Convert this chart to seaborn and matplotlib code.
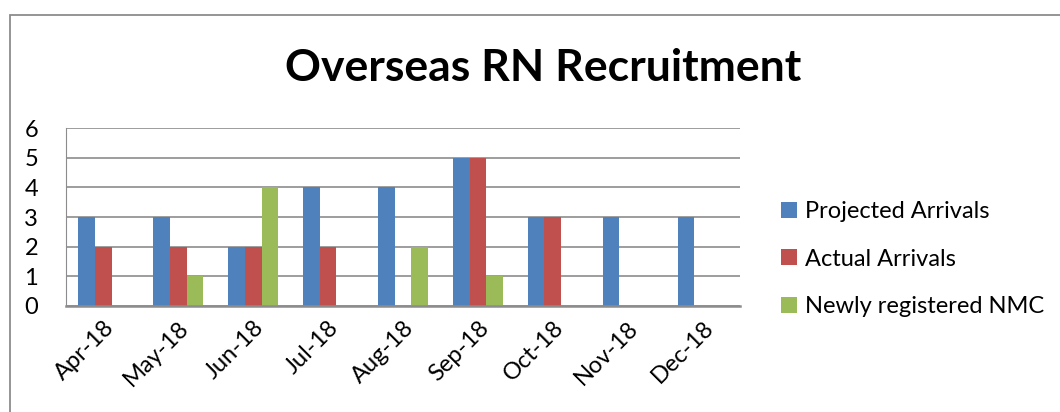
import matplotlib
matplotlib.use("Agg")
import matplotlib.pyplot as plt
import matplotlib.patches as mpatches
import pandas as pd
import seaborn as sns

months = ["Apr-18", "May-18", "Jun-18", "Jul-18", "Aug-18",
          "Sep-18", "Oct-18", "Nov-18", "Dec-18"]
projected = [3, 3, 2, 4, 4, 5, 3, 3, 3]
actual = [2, 2, 2, 2, 0, 5, 3, 0, 0]
newly_nmc = [0, 1, 4, 0, 2, 1, 0, 0, 0]
series_names = ["Projected Arrivals", "Actual Arrivals", "Newly registered NMC"]
colors = ["#4F81BD", "#C0504D", "#9BBB59"]

df = pd.DataFrame({
    "Month": months * 3,
    "Value": projected + actual + newly_nmc,
    "Series": [s for s in series_names for _ in months],
})

sns.set_style("white")
plt.rcParams["font.family"] = ["Lato", "DejaVu Sans"]
plt.rcParams["text.color"] = "black"
plt.rcParams["xtick.color"] = "black"
plt.rcParams["ytick.color"] = "black"

fig = plt.figure(figsize=(10.6, 4.12), dpi=100)
ax = fig.add_axes([66 / 1060, 1 - 306 / 412, (740 - 66) / 1060, (306 - 128) / 412])

sns.barplot(data=df, x="Month", y="Value", hue="Series", hue_order=series_names,
            order=months, palette=colors, width=0.667, gap=0, saturation=1,
            edgecolor="none", linewidth=0, ax=ax, legend=True)

ax.set_xlim(-0.5, len(months) - 0.5)
ax.set_ylim(0, 6)
ax.set_yticks(range(7))
ax.yaxis.grid(True, color="#8c8c8c", linewidth=1.2)
ax.set_axisbelow(True)
ax.set_xlabel("")
ax.set_ylabel("")
for side in ["top", "right"]:
    ax.spines[side].set_visible(False)
ax.spines["left"].set_color("#8c8c8c")
ax.spines["bottom"].set_color("#8c8c8c")
ax.spines["bottom"].set_linewidth(1.8)
ax.tick_params(axis="both", length=0, labelsize=17)
ax.tick_params(axis="y", pad=20)
ax.tick_params(axis="x", pad=8)
plt.setp(ax.get_xticklabels(), rotation=45, ha="right", rotation_mode="anchor")

handles, labels = ax.get_legend_handles_labels()
ax.legend(handles, labels, loc="center left", bbox_to_anchor=(760 / 1060, 1 - 259 / 412),
          bbox_transform=fig.transFigure, frameon=False, fontsize=17,
          handlelength=0.65, handleheight=0.65, handletextpad=0.35, labelspacing=1.12)

fig.text(543 / 1060, 1 - 68 / 412, "Overseas RN Recruitment", ha="center", va="center",
         fontsize=32, fontweight="bold")

# outer chart frame (cut off at right and bottom)
frame = mpatches.Rectangle((10 / 1060, -0.2), 1.2, 1.2 - 15 / 412, transform=fig.transFigure,
                           fill=False, edgecolor="#8c8c8c", linewidth=1.3, clip_on=False)
fig.patches.append(frame)

fig.savefig("out.png", dpi=100)
